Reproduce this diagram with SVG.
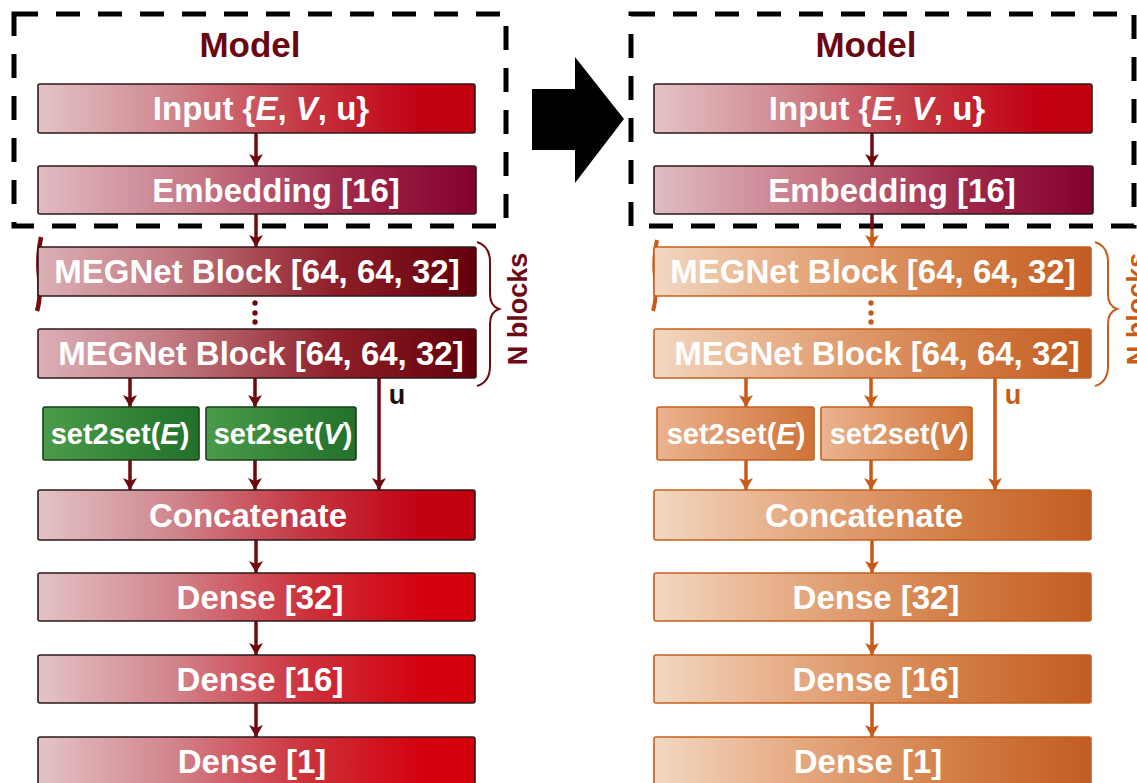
<svg xmlns="http://www.w3.org/2000/svg" width="1137" height="783" viewBox="0 0 1137 783">
  <defs>
    <linearGradient id="gRed" x1="0" y1="0" x2="1" y2="0">
      <stop offset="0" stop-color="#e3c3c6"/>
      <stop offset="0.3" stop-color="#d08890"/>
      <stop offset="0.62" stop-color="#c4343f"/>
      <stop offset="0.88" stop-color="#c20012"/>
      <stop offset="1" stop-color="#c0000e"/>
    </linearGradient>
    <linearGradient id="gDense" x1="0" y1="0" x2="1" y2="0">
      <stop offset="0" stop-color="#e3c3c6"/>
      <stop offset="0.3" stop-color="#d2868e"/>
      <stop offset="0.62" stop-color="#cc303a"/>
      <stop offset="0.88" stop-color="#d4000e"/>
      <stop offset="1" stop-color="#d4000c"/>
    </linearGradient>
    <linearGradient id="gEmb" x1="0" y1="0" x2="1" y2="0">
      <stop offset="0" stop-color="#e0bcc2"/>
      <stop offset="0.35" stop-color="#c77a88"/>
      <stop offset="0.7" stop-color="#a02a4a"/>
      <stop offset="1" stop-color="#82002e"/>
    </linearGradient>
    <linearGradient id="gMeg" x1="0" y1="0" x2="1" y2="0">
      <stop offset="0" stop-color="#dcb0b6"/>
      <stop offset="0.3" stop-color="#c27a82"/>
      <stop offset="0.68" stop-color="#8e1e28"/>
      <stop offset="1" stop-color="#62000a"/>
    </linearGradient>
    <linearGradient id="gGreen" x1="0" y1="0" x2="1" y2="0">
      <stop offset="0" stop-color="#4a9c4a"/>
      <stop offset="1" stop-color="#22702a"/>
    </linearGradient>
    <linearGradient id="gOrange" x1="0" y1="0" x2="1" y2="0">
      <stop offset="0" stop-color="#f2d8c2"/>
      <stop offset="0.3" stop-color="#e6ad86"/>
      <stop offset="0.7" stop-color="#d27c44"/>
      <stop offset="1" stop-color="#c25c22"/>
    </linearGradient>
    <linearGradient id="gOrangeSmall" x1="0" y1="0" x2="1" y2="0">
      <stop offset="0" stop-color="#eab48e"/>
      <stop offset="1" stop-color="#cf7238"/>
    </linearGradient>
    <marker id="arrRed" viewBox="0 0 12 14" refX="12" refY="7" markerWidth="12" markerHeight="14" markerUnits="userSpaceOnUse" orient="auto">
      <path d="M0,0 L12,7 L0,14 L3,7 Z" fill="#6e0a0e"/>
    </marker>
    <marker id="arrOrange" viewBox="0 0 12 14" refX="12" refY="7" markerWidth="12" markerHeight="14" markerUnits="userSpaceOnUse" orient="auto">
      <path d="M0,0 L12,7 L0,14 L3,7 Z" fill="#c85a1a"/>
    </marker>
    <style>
      .box { stroke: #2e1a1a; stroke-width: 1.6; }
      .obox { stroke: #c4601e; stroke-width: 1.6; }
      .gbox { stroke: #1a3f1a; stroke-width: 1.6; }
      .lbl { font-family: "Liberation Sans", Arial, sans-serif; font-weight: bold; font-size: 33px; fill: #ffffff; text-anchor: middle; }
      .sml { font-family: "Liberation Sans", Arial, sans-serif; font-weight: bold; font-size: 29px; fill: #ffffff; text-anchor: middle; }
      .title { font-family: "Liberation Sans", Arial, sans-serif; font-weight: bold; font-size: 35px; fill: #6a0812; text-anchor: middle; }
      .nb { font-family: "Liberation Sans", Arial, sans-serif; font-weight: bold; font-size: 27px; text-anchor: middle; }
      .dash { fill: none; stroke: #000000; stroke-width: 5; stroke-dasharray: 24 18; }
      .cr { stroke: #6e0a0e; stroke-width: 3.5; fill: none; }
      .co { stroke: #c85a1a; stroke-width: 3.5; fill: none; }
    </style>
  </defs>

  <rect width="1137" height="783" fill="#ffffff"/>

  <!-- model frames -->
  <rect id="frame-left" class="dash" x="14" y="14" width="492" height="212"/>
  <rect id="frame-right" class="dash" x="631" y="14" width="503" height="212"/>

  <!-- transition arrow -->
  <polygon id="big-arrow" points="532,89 575,89 575,57 624,119 575,183 575,150 532,150" fill="#000000"/>

  <!-- connectors -->
  <g id="connectors">
    <!-- left column -->
    <line class="cr" x1="256" y1="133" x2="256" y2="166" marker-end="url(#arrRed)"/>
    <line class="cr" x1="256" y1="214" x2="256" y2="247" marker-end="url(#arrRed)"/>
    <line class="cr" x1="130" y1="378" x2="130" y2="407" marker-end="url(#arrRed)"/>
    <line class="cr" x1="255" y1="378" x2="255" y2="407" marker-end="url(#arrRed)"/>
    <line class="cr" x1="379" y1="378" x2="379" y2="490" marker-end="url(#arrRed)"/>
    <line class="cr" x1="130" y1="460" x2="130" y2="490" marker-end="url(#arrRed)"/>
    <line class="cr" x1="255" y1="460" x2="255" y2="490" marker-end="url(#arrRed)"/>
    <line class="cr" x1="256" y1="540" x2="256" y2="573" marker-end="url(#arrRed)"/>
    <line class="cr" x1="256" y1="621" x2="256" y2="655" marker-end="url(#arrRed)"/>
    <line class="cr" x1="256" y1="703" x2="256" y2="737" marker-end="url(#arrRed)"/>
    <path d="M41,237 Q37,256 39,276 Q41,298 37,311" fill="none" stroke="#7a0a10" stroke-width="4.5"/>
    <!-- right column -->
    <line class="cr" x1="872" y1="133" x2="872" y2="166" marker-end="url(#arrRed)"/>
    <line class="cr" x1="872" y1="214" x2="872" y2="229"/>
    <line class="co" x1="872" y1="229" x2="872" y2="247" marker-end="url(#arrOrange)"/>
    <line class="co" x1="746" y1="378" x2="746" y2="407" marker-end="url(#arrOrange)"/>
    <line class="co" x1="871" y1="378" x2="871" y2="407" marker-end="url(#arrOrange)"/>
    <line class="co" x1="995" y1="378" x2="995" y2="490" marker-end="url(#arrOrange)"/>
    <line class="co" x1="746" y1="460" x2="746" y2="490" marker-end="url(#arrOrange)"/>
    <line class="co" x1="871" y1="460" x2="871" y2="490" marker-end="url(#arrOrange)"/>
    <line class="co" x1="872" y1="540" x2="872" y2="573" marker-end="url(#arrOrange)"/>
    <line class="co" x1="872" y1="621" x2="872" y2="655" marker-end="url(#arrOrange)"/>
    <line class="co" x1="872" y1="703" x2="872" y2="737" marker-end="url(#arrOrange)"/>
    <path d="M657,240 Q653,258 655,277 Q657,298 653,311" fill="none" stroke="#c85a1a" stroke-width="4"/>
  </g>

  <!-- left network -->
  <g id="left-title"><text class="title" x="250" y="57">Model</text></g>

  <g id="left-input">
    <rect class="box" x="38" y="84" width="437" height="49" rx="2" fill="url(#gRed)"/>
    <text class="lbl" x="261" y="120">Input {<tspan font-style="italic">E</tspan>, <tspan font-style="italic">V</tspan>, u}</text>
  </g>
  <g id="left-embedding">
    <rect class="box" x="38" y="166" width="438" height="48" rx="2" fill="url(#gEmb)"/>
    <text class="lbl" x="276" y="202">Embedding [16]</text>
  </g>
  <g id="left-megnet-1">
    <rect class="box" x="38" y="247" width="438" height="49" rx="2" fill="url(#gMeg)"/>
    <text class="lbl" x="257" y="283">MEGNet Block [64, 64, 32]</text>
  </g>
  <g id="left-dots" fill="#6e0a0e">
    <circle cx="255" cy="303" r="2.7"/>
    <circle cx="255" cy="313" r="2.7"/>
    <circle cx="255" cy="322" r="2.7"/>
  </g>
  <g id="left-megnet-2">
    <rect class="box" x="38" y="329" width="438" height="49" rx="2" fill="url(#gMeg)"/>
    <text class="lbl" x="261" y="365">MEGNet Block [64, 64, 32]</text>
  </g>
  <g id="left-nblocks">
    <path d="M477,242 Q490,246 490,262 L490,294 Q490,306 499,309 Q490,312 490,324 L490,366 Q490,382 477,386" fill="none" stroke="#6e0a0e" stroke-width="2"/>
    <text class="nb" fill="#6e0a14" transform="translate(527,309) rotate(-90)">N blocks</text>
  </g>
  <g id="left-u"><text class="nb" fill="#1a1010" x="397" y="404" font-size="27">u</text></g>
  <g id="left-set2set-e">
    <rect class="gbox" x="43" y="407" width="156" height="53" rx="2" fill="url(#gGreen)"/>
    <text class="sml" x="120" y="444">set2set(<tspan font-style="italic">E</tspan>)</text>
  </g>
  <g id="left-set2set-v">
    <rect class="gbox" x="206" y="407" width="150" height="53" rx="2" fill="url(#gGreen)"/>
    <text class="sml" x="283" y="444">set2set(<tspan font-style="italic">V</tspan>)</text>
  </g>
  <g id="left-concatenate">
    <rect class="box" x="38" y="490" width="437" height="50" rx="2" fill="url(#gRed)"/>
    <text class="lbl" x="248" y="527">Concatenate</text>
  </g>
  <g id="left-dense-32">
    <rect class="box" x="38" y="573" width="437" height="48" rx="2" fill="url(#gDense)"/>
    <text class="lbl" x="260" y="609">Dense [32]</text>
  </g>
  <g id="left-dense-16">
    <rect class="box" x="38" y="655" width="437" height="48" rx="2" fill="url(#gDense)"/>
    <text class="lbl" x="260" y="691">Dense [16]</text>
  </g>
  <g id="left-dense-1">
    <rect class="box" x="38" y="737" width="437" height="56" rx="2" fill="url(#gDense)"/>
    <text class="lbl" x="252" y="773">Dense [1]</text>
  </g>

  <!-- right network -->
  <g id="right-title"><text class="title" x="866" y="57">Model</text></g>

  <g id="right-input">
    <rect class="box" x="654" y="84" width="438" height="49" rx="2" fill="url(#gRed)"/>
    <text class="lbl" x="877" y="120">Input {<tspan font-style="italic">E</tspan>, <tspan font-style="italic">V</tspan>, u}</text>
  </g>
  <g id="right-embedding">
    <rect class="box" x="654" y="166" width="439" height="48" rx="2" fill="url(#gEmb)"/>
    <text class="lbl" x="892" y="202">Embedding [16]</text>
  </g>
  <g id="right-megnet-1">
    <rect class="obox" x="654" y="247" width="437" height="49" rx="2" fill="url(#gOrange)"/>
    <text class="lbl" x="873" y="283">MEGNet Block [64, 64, 32]</text>
  </g>
  <g id="right-dots" fill="#c85a1a">
    <circle cx="871" cy="303" r="2.7"/>
    <circle cx="871" cy="313" r="2.7"/>
    <circle cx="871" cy="322" r="2.7"/>
  </g>
  <g id="right-megnet-2">
    <rect class="obox" x="654" y="329" width="437" height="49" rx="2" fill="url(#gOrange)"/>
    <text class="lbl" x="877" y="365">MEGNet Block [64, 64, 32]</text>
  </g>
  <g id="right-nblocks">
    <path d="M1095,242 Q1108,246 1108,262 L1108,294 Q1108,306 1117,309 Q1108,312 1108,324 L1108,366 Q1108,382 1095,386" fill="none" stroke="#c85a1a" stroke-width="2"/>
    <text class="nb" fill="#c85a1a" transform="translate(1146,309) rotate(-90)">N blocks</text>
  </g>
  <g id="right-u"><text class="nb" fill="#c85a1a" x="1013" y="404" font-size="27">u</text></g>
  <g id="right-set2set-e">
    <rect class="obox" x="657" y="407" width="157" height="53" rx="2" fill="url(#gOrangeSmall)"/>
    <text class="sml" x="736" y="444">set2set(<tspan font-style="italic">E</tspan>)</text>
  </g>
  <g id="right-set2set-v">
    <rect class="obox" x="821" y="407" width="151" height="53" rx="2" fill="url(#gOrangeSmall)"/>
    <text class="sml" x="899" y="444">set2set(<tspan font-style="italic">V</tspan>)</text>
  </g>
  <g id="right-concatenate">
    <rect class="obox" x="654" y="490" width="437" height="50" rx="2" fill="url(#gOrange)"/>
    <text class="lbl" x="864" y="527">Concatenate</text>
  </g>
  <g id="right-dense-32">
    <rect class="obox" x="654" y="573" width="437" height="48" rx="2" fill="url(#gOrange)"/>
    <text class="lbl" x="876" y="609">Dense [32]</text>
  </g>
  <g id="right-dense-16">
    <rect class="obox" x="654" y="655" width="437" height="48" rx="2" fill="url(#gOrange)"/>
    <text class="lbl" x="876" y="691">Dense [16]</text>
  </g>
  <g id="right-dense-1">
    <rect class="obox" x="654" y="737" width="437" height="56" rx="2" fill="url(#gOrange)"/>
    <text class="lbl" x="868" y="773">Dense [1]</text>
  </g>
</svg>
